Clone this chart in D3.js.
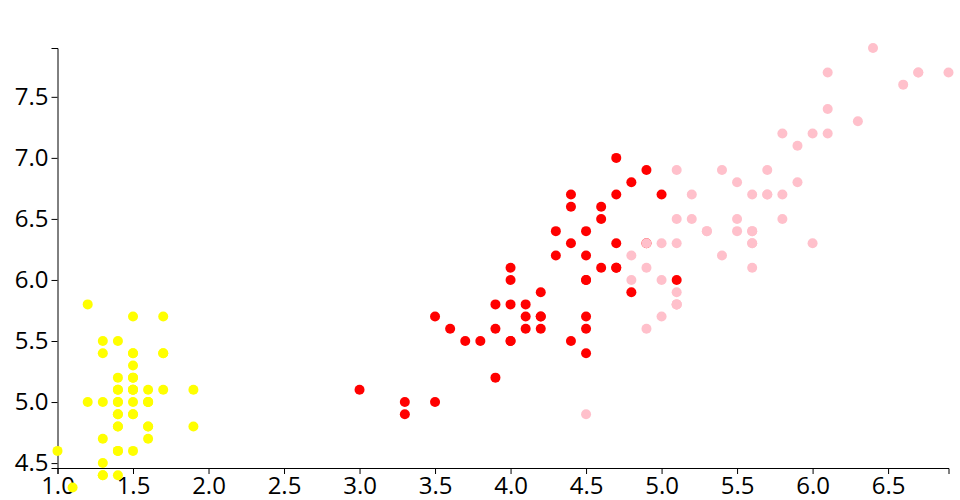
<!DOCTYPE html>
<html>
<head>
<meta charset="utf-8">
<script src="https://cdn.jsdelivr.net/npm/d3@7"></script>
<style>
body { margin: 0; background: #fff; }
svg { display: block; }
</style>
</head>
<body>
<svg id="chart" width="960" height="500"></svg>
<script>
// Iris: petal length (x) vs sepal length (y)
const species = ["setosa", "versicolor", "virginica"];
const speciesColors = ["yellow", "red", "pink"];

const setosaPetal = [1.4,1.4,1.3,1.5,1.4,1.7,1.4,1.5,1.4,1.5,1.5,1.6,1.4,1.1,1.2,1.5,1.3,1.4,1.7,1.5,1.7,1.5,1.0,1.7,1.9,1.6,1.6,1.5,1.4,1.6,1.6,1.5,1.5,1.4,1.5,1.2,1.3,1.4,1.3,1.5,1.3,1.3,1.3,1.6,1.9,1.4,1.6,1.4,1.5,1.4];
const setosaSepal = [5.1,4.9,4.7,4.6,5.0,5.4,4.6,5.0,4.4,4.9,5.4,4.8,4.8,4.3,5.8,5.7,5.4,5.1,5.7,5.1,5.4,5.1,4.6,5.1,4.8,5.0,5.0,5.2,5.2,4.7,4.8,5.4,5.2,5.5,4.9,5.0,5.5,4.9,4.4,5.1,5.0,4.5,4.4,5.0,5.1,4.8,5.1,4.6,5.3,5.0];

const versicolorPetal = [4.7,4.5,4.9,4.0,4.6,4.5,4.7,3.3,4.6,3.9,3.5,4.2,4.0,4.7,3.6,4.4,4.5,4.1,4.5,3.9,4.8,4.0,4.9,4.7,4.3,4.4,4.8,5.0,4.5,3.5,3.8,3.7,3.9,5.1,4.5,4.5,4.7,4.4,4.1,4.0,4.4,4.6,4.0,3.3,4.2,4.2,4.2,4.3,3.0,4.1];
const versicolorSepal = [7.0,6.4,6.9,5.5,6.5,5.7,6.3,4.9,6.6,5.2,5.0,5.9,6.0,6.1,5.6,6.7,5.6,5.8,6.2,5.6,5.9,6.1,6.3,6.1,6.4,6.6,6.8,6.7,6.0,5.7,5.5,5.5,5.8,6.0,5.4,6.0,6.7,6.3,5.6,5.5,5.5,6.1,5.8,5.0,5.6,5.7,5.7,6.2,5.1,5.7];

const virginicaPetal = [6.0,5.1,5.9,5.6,5.8,6.6,4.5,6.3,5.8,6.1,5.1,5.3,5.5,5.0,5.1,5.3,5.5,6.7,6.9,5.0,5.7,4.9,6.7,4.9,5.7,6.0,4.8,4.9,5.6,5.8,6.1,6.4,5.6,5.1,5.6,6.1,5.6,5.5,4.8,5.4,5.6,5.1,5.1,5.9,5.7,5.2,5.0,5.2,5.4,5.1];
const virginicaSepal = [6.3,5.8,7.1,6.3,6.5,7.6,4.9,7.3,6.7,7.2,6.5,6.4,6.8,5.7,5.8,6.4,6.5,7.7,7.7,6.0,6.9,5.6,7.7,6.3,6.7,7.2,6.2,6.1,6.4,7.2,7.4,7.9,6.4,6.3,6.1,7.7,6.3,6.4,6.0,6.9,6.7,6.9,5.8,6.8,6.7,6.7,6.3,6.5,6.2,5.9];

const xTicks = [1.0,1.5,2.0,2.5,3.0,3.5,4.0,4.5,5.0,5.5,6.0,6.5];
const yTicks = [4.5,5.0,5.5,6.0,6.5,7.0,7.5];

const petals = [setosaPetal, versicolorPetal, virginicaPetal];
const sepals = [setosaSepal, versicolorSepal, virginicaSepal];
const data = [];
species.forEach((s, i) => {
  petals[i].forEach((p, j) => data.push({species: s, petal: p, sepal: sepals[i][j], color: speciesColors[i]}));
});

const svg = d3.select("#chart");
const x = d3.scaleLinear().domain(d3.extent(data, d => d.petal)).range([57.5, 948.5]);
const y = d3.scaleLinear().domain(d3.extent(data, d => d.sepal)).range([487.5, 48]);

const axisY = 468;
const yAxisScale = y.copy().domain([y.invert(axisY), y.domain()[1]]).range([axisY, 48]);

const gx = svg.append("g")
  .attr("transform", `translate(0,${axisY})`)
  .call(d3.axisBottom(x).tickValues(xTicks).tickFormat(d3.format(".1f")));

const gy = svg.append("g")
  .attr("transform", `translate(${x(1.0)},0)`)
  .call(d3.axisLeft(yAxisScale).tickValues(yTicks).tickFormat(d3.format(".1f")));

[gx, gy].forEach(g => g
  .attr("font-family", "'Open Sans', sans-serif")
  .attr("font-size", 24)
  .selectAll("text").attr("fill", "#000"));

svg.append("g")
  .selectAll("circle")
  .data(data)
  .join("circle")
  .attr("cx", d => x(d.petal))
  .attr("cy", d => y(d.sepal))
  .attr("r", 5)
  .attr("fill", d => d.color);
</script>
</body>
</html>
